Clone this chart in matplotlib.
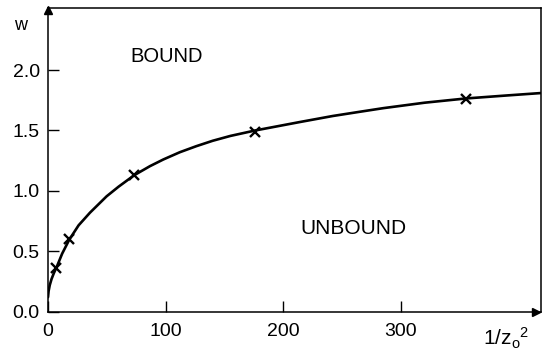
import matplotlib
matplotlib.use("Agg")
import matplotlib.pyplot as plt

plt.rcParams['font.family'] = ['Liberation Sans', 'DejaVu Sans']
plt.rcParams['mathtext.fontset'] = 'custom'
plt.rcParams['mathtext.rm'] = 'Liberation Sans'
plt.rcParams['mathtext.it'] = 'Liberation Sans'

# curve
curve_x = [0, 0.5, 1.5, 3, 5, 7.4, 12, 18, 26, 35.7, 49.8, 60, 73.3, 86.7, 98,
           112, 126, 140, 155, 176, 195, 214, 242, 265, 285, 320, 355, 390, 419]
curve_w = [0.12, 0.17, 0.22, 0.27, 0.32, 0.37, 0.48, 0.595, 0.715, 0.82, 0.955, 1.035,
           1.13, 1.205, 1.26, 1.32, 1.37, 1.415, 1.455, 1.50, 1.535, 1.57, 1.62, 1.655,
           1.685, 1.73, 1.765, 1.79, 1.81]

# measured points
pts_x = [7, 18, 73, 176, 355]
pts_w = [0.36, 0.60, 1.13, 1.49, 1.76]

xticks = [0, 100, 200, 300]
xtick_labels = ['0', '100', '200', '300']
yticks = [0.0, 0.5, 1.0, 1.5, 2.0]
ytick_labels = ['0.0', '0.5', '1.0', '1.5', '2.0']

W, H = 543, 358
fig = plt.figure(figsize=(W / 100, H / 100), dpi=100)
left, right, top, bottom = 48, 541, 8, 311.7
ax = fig.add_axes([left / W, (H - bottom) / H, (right - left) / W, (bottom - top) / H])

ax.plot(curve_x, curve_w, color='black', lw=1.9, solid_capstyle='round')
ax.plot(pts_x, pts_w, linestyle='none', marker='x', color='black', ms=7.5, mew=1.7)

ax.set_xlim(0, 419)
ax.set_ylim(0, 2.514)
ax.set_xticks(xticks)
ax.set_xticklabels(xtick_labels)
ax.set_yticks(yticks)
ax.set_yticklabels(ytick_labels)
ax.tick_params(direction='in', length=8, width=1.0, labelsize=14, pad=6, color='black')
ax.tick_params(axis='x', pad=8)
for s in ax.spines.values():
    s.set_linewidth(1.1)

# arrows
ax.plot([0.99], [0], marker='>', color='black', ms=6, transform=ax.transAxes, clip_on=False)
ax.plot([0], [0.995], marker='^', color='black', ms=6, transform=ax.transAxes, clip_on=False)

fig.text(21 / W, 1 - 25 / H, 'w', fontsize=13, ha='center', va='center')
fig.text(506 / W, 1 - 338 / H, r'$\mathregular{1/z_o{}^2}$', fontsize=15, ha='center', va='center')
fig.text(167 / W, 1 - 56 / H, 'BOUND', fontsize=14.5, ha='center', va='center')
fig.text(353 / W, 1 - 228 / H, 'UNBOUND', fontsize=15, ha='center', va='center')

fig.savefig('out.png', dpi=100)
